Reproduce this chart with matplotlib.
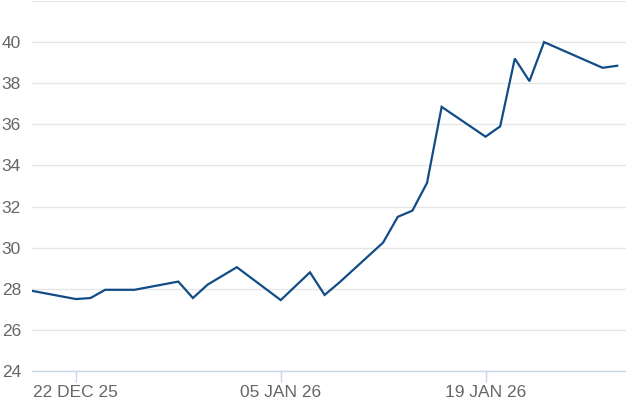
import matplotlib
matplotlib.use("Agg")
import matplotlib.pyplot as plt
import matplotlib.dates as mdates
import numpy as np
import datetime as dt

# datos
fechas = ["2025-12-19", "2025-12-22", "2025-12-23", "2025-12-24", "2025-12-26",
          "2025-12-29", "2025-12-30", "2025-12-31", "2026-01-02", "2026-01-05",
          "2026-01-07", "2026-01-08", "2026-01-09", "2026-01-12", "2026-01-13",
          "2026-01-14", "2026-01-15", "2026-01-16", "2026-01-19", "2026-01-20",
          "2026-01-21", "2026-01-22", "2026-01-23", "2026-01-27", "2026-01-28"]
valores = [27.9, 27.5, 27.55, 27.95, 27.95,
           28.35, 27.55, 28.2, 29.05, 27.45,
           28.8, 27.7, 28.3, 30.25, 31.5,
           31.8, 33.15, 36.85, 35.4, 35.9,
           39.2, 38.1, 40.0, 38.75, 38.85]

ticks_x = ["2025-12-22", "2026-01-05", "2026-01-19"]
ticks_y = [24, 26, 28, 30, 32, 34, 36, 38, 40, 42]

x = [dt.datetime.strptime(f, "%Y-%m-%d") for f in fechas]
xt = [dt.datetime.strptime(f, "%Y-%m-%d") for f in ticks_x]

plt.rcParams['font.family'] = ['Liberation Sans', 'DejaVu Sans']

fig = plt.figure(figsize=(6.26, 4.17), dpi=100)
ax = fig.add_axes([32/626, 46/417, 594/626, 370/417])

ax.plot(x, valores, color='#124c87', linewidth=1.6, solid_joinstyle='miter')

ax.set_ylim(24, 42)
ax.set_yticks(ticks_y)
ax.set_yticklabels([str(v) if v < 42 else "" for v in ticks_y])
ax.set_xlim(dt.datetime(2025, 12, 19), dt.datetime(2025, 12, 22) + dt.timedelta(days=37.6))
ax.set_xticks(xt)
ax.set_xticklabels([d.strftime('%d %b %y').upper() for d in xt])

ax.grid(axis='y', color='#e6e6e6', linewidth=1)
ax.set_axisbelow(True)
for s in ['top', 'right', 'left']:
    ax.spines[s].set_visible(False)
ax.spines['bottom'].set_color('#ccd6eb')
ax.spines['bottom'].set_linewidth(1)

ax.tick_params(axis='y', length=0, pad=8, labelsize=12.5, labelcolor='#666666')
ax.tick_params(axis='x', length=8, width=1, color='#ccd6eb', pad=2,
               labelsize=12.5, labelcolor='#666666')

fig.savefig("out.png", dpi=100)
